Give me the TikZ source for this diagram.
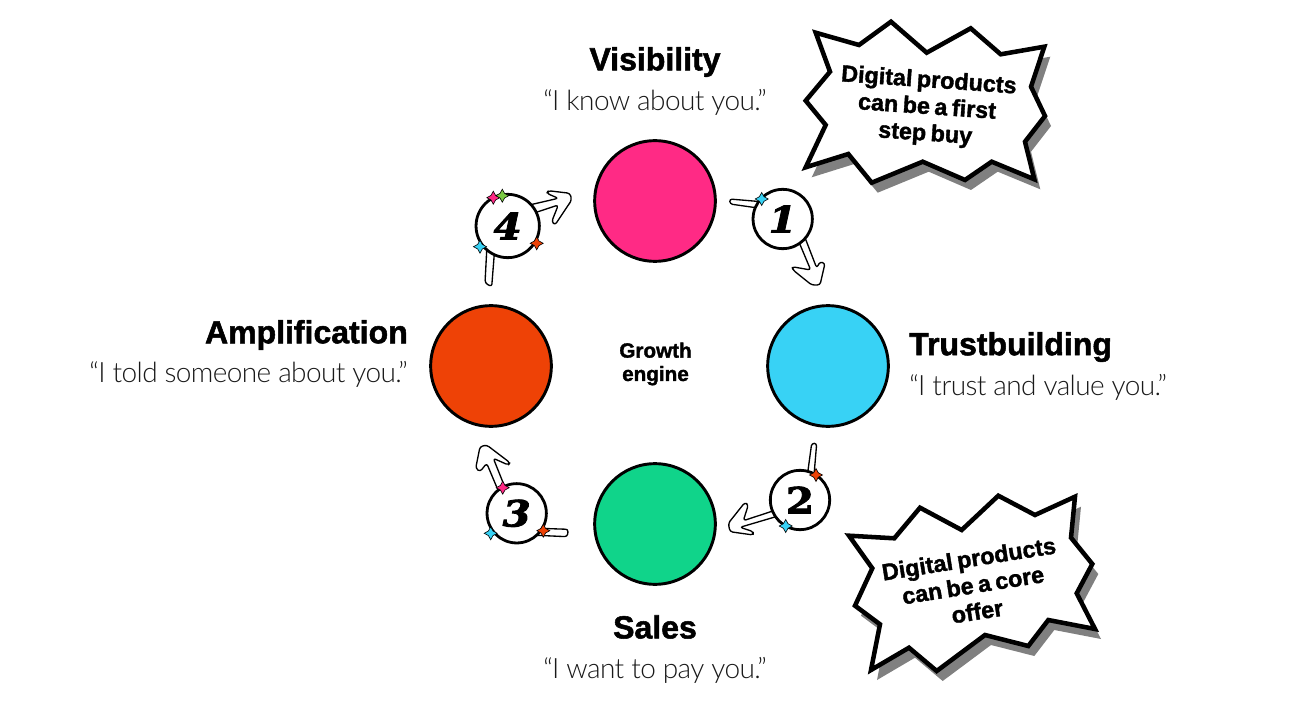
\documentclass[tikz,border=0pt]{standalone}
\usepackage{fontspec}
\setmainfont{Liberation Sans}
\newfontfamily\headf[FakeBold=1.6]{Liberation Sans Bold}
\newfontfamily\callf[FakeBold=1.6,WordSpace=0.7]{Liberation Sans Bold}
\newfontfamily\lightf[UprightFont=* Light,LetterSpace=-2.2]{Lato}
\newfontfamily\numf[FakeBold=2.5,FakeStretch=1.12]{DejaVu Serif}
\definecolor{cpink}{HTML}{FF2A85}
\definecolor{ccyan}{HTML}{38D2F5}
\definecolor{cgreen}{HTML}{10D48A}
\definecolor{corange}{HTML}{EE4206}
\definecolor{clime}{HTML}{7AC943}
\definecolor{cshadow}{HTML}{808080}
\tikzset{
  stage/.style={circle,draw=black,line width=2.2pt,minimum size=90.5pt,inner sep=0pt},
  badge/.style={circle,draw=black,fill=white,line width=2.1pt,minimum size=44.5pt,inner sep=0pt,font=\numf\bfseries\fontsize{27}{27}\selectfont},
  head/.style={font=\headf\fontsize{24}{28}\selectfont,inner sep=0pt},
  quote/.style={font=\lightf\fontsize{21}{25}\selectfont,text=black!90,inner sep=0pt},
  calltext/.style={font=\callf\fontsize{17.5}{20}\selectfont,align=center,inner sep=0pt},
  burst/.style={draw=black,fill=white,line width=3.4pt,line join=miter,miter limit=6},
  burstshadow/.style={fill=cshadow},
  sketch/.style={draw=black,fill=white,line width=1pt,rounded corners=2pt,line join=round},
}
\newcommand{\sparkle}[3]{%
  \fill[#3,draw=black,line width=.45pt] (#1,#2-6.5) -- (#1+2.3,#2-2.3) -- (#1+6.5,#2) -- (#1+2.3,#2+2.3) -- (#1,#2+6.5) -- (#1-2.3,#2+2.3) -- (#1-6.5,#2) -- (#1-2.3,#2-2.3) -- cycle;}
\newcommand{\burstA}{(815.7,32.7) -- (859,45) -- (891,21.7) -- (926.7,52.7) -- (970.7,28.3) -- (1000.7,54.3) -- (1044.3,46.7) -- (1031,86.7) -- (1045,116) -- (1025,141.7) -- (1034.3,179.3) -- (991.7,161.7) -- (965,180) -- (922.7,161.7) -- (871.7,182.7) -- (848.3,154) -- (805.7,167.3) -- (825.7,125) -- (805.7,100.7) -- (830,71.7) -- cycle}
\newcommand{\burstB}{(849,535.7) -- (894.3,538.3) -- (920,507.7) -- (961.7,530) -- (998.3,495.7) -- (1035,515) -- (1075,496.7) -- (1071,537.7) -- (1092.3,564) -- (1076.7,593.3) -- (1095,629) -- (1048.3,620) -- (1028.3,646) -- (985,635) -- (936.7,671) -- (909,647.7) -- (871,670) -- (880,624.3) -- (855,605.7) -- (872.3,568.3) -- cycle}
\begin{document}
\begin{tikzpicture}[x=0.75pt,y=-0.75pt]
\useasboundingbox (0,0) rectangle (1292,727);
% big circles
\node[stage,fill=cpink]   (vis) at (655,201) {};
\node[stage,fill=ccyan]   (tru) at (828,366) {};
\node[stage,fill=cgreen]  (sal) at (655,524) {};
\node[stage,fill=corange] (amp) at (491,366) {};
% labels
\node[head] (tvis) at (655,62) {Visibility};
\node[quote] (qvis) at (655,102) {“I know about you.”};
\node[head,anchor=west] (ttru) at (909,347) {Trustbuilding};
\node[quote,anchor=west] (qtru) at (909,387) {“I trust and value you.”};
\node[head] (tsal) at (655,627) {Sales};
\node[quote] (qsal) at (655,670) {“I want to pay you.”};
\node[head,anchor=east] (tamp) at (408,335) {Amplification};
\node[quote,anchor=east] (qamp) at (408,374) {“I told someone about you.”};
\node[font=\headf\fontsize{15.5}{17.5}\selectfont,align=center,inner sep=0pt] (core) at (655.5,364) {Growth\\engine};
% sketched arrows
\draw[sketch] (729.5,199) -- (765,202) -- (765,209) -- (730,204) -- cycle;
\draw[sketch] (796,235) -- (810.7,270) -- (792,266.7) -- (793,270) -- (811.7,285) -- (820,285) -- (825,263.3) -- (820,261.7) -- (816.7,268) -- (803,232.5) -- cycle;
\draw[sketch] (806,485) -- (811.7,443.3) -- (816.7,443.3) -- (813,487) -- cycle;
\draw[sketch] (785,507) -- (743.3,520.7) -- (748.3,505) -- (745,502.3) -- (728.3,523.3) -- (730,531.7) -- (753.3,535) -- (753.3,531.7) -- (740,527.3) -- (785,514) -- cycle;
\draw[sketch] (530,528) -- (568.3,529.3) -- (567.3,536.7) -- (530,535) -- cycle;
\draw[sketch] (503,502) -- (486.7,463.3) -- (480,471.7) -- (475.7,468.3) -- (480,446.7) -- (486.7,445) -- (510,462.7) -- (508.3,465) -- (493.3,458.3) -- (510,500) -- cycle;
\draw[sketch] (487,245) -- (485,283) -- (491.7,286.7) -- (495,245) -- cycle;
\draw[sketch] (525,206) -- (558.3,198.3) -- (546.7,193.3) -- (548.3,190.7) -- (570,193.3) -- (571.7,200) -- (555,225) -- (551.7,221.7) -- (558.3,205) -- (525,216) -- cycle;
% badges
\node[badge] (b1) at (782.7,219) {\itshape 1};
\node[badge] (b2) at (800,500) {2};
\node[badge] (b3) at (516.7,513.3) {\itshape 3};
\node[badge,minimum size=47.5pt] (b4) at (507.7,226) {\itshape 4};
% sparkles
\sparkle{761.7}{199}{ccyan}
\sparkle{493.3}{197.7}{cpink}
\sparkle{502.3}{195.7}{clime}
\sparkle{480}{246.7}{ccyan}
\sparkle{536.7}{243.3}{corange}
\sparkle{816}{475}{corange}
\sparkle{785.7}{526}{ccyan}
\sparkle{502.7}{487.7}{cpink}
\sparkle{543.3}{530.7}{corange}
\sparkle{490.7}{533.3}{ccyan}
% call-outs
\fill[burstshadow,shift={(4.5pt,-7.5pt)}] \burstA;
\draw[burst] \burstA;
\node[calltext,rotate=-4] (callA) at (927,108) {Digital products\\can be a first\\step buy};
\fill[burstshadow,shift={(4.5pt,-7.5pt)}] \burstB;
\draw[burst] \burstB;
\node[calltext,rotate=9] (callB) at (973,585) {Digital products\\can be a core\\offer};
\end{tikzpicture}
\end{document}
